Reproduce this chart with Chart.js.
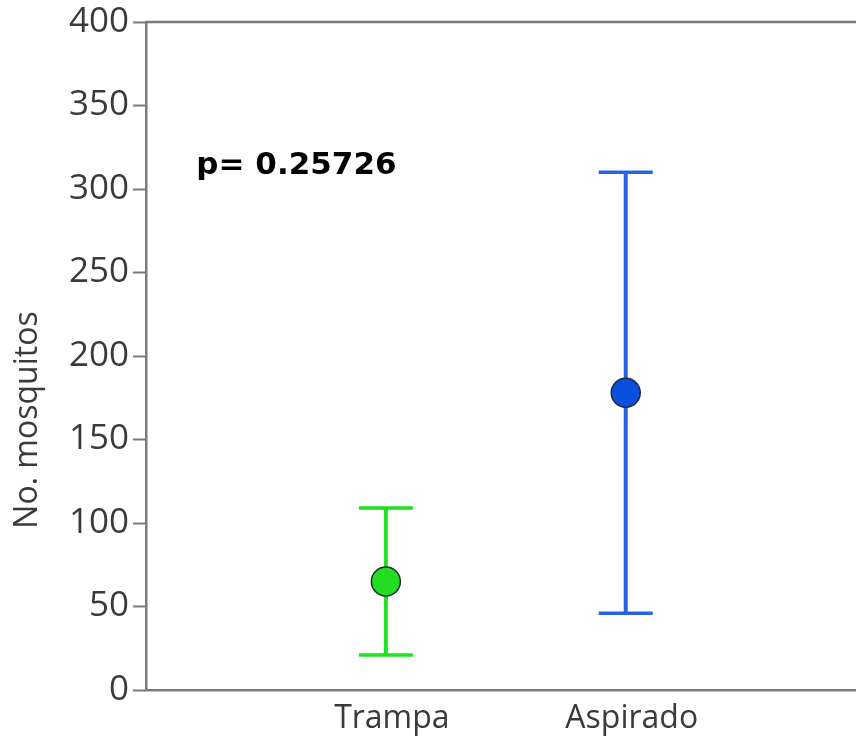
<!DOCTYPE html>
<html>
<head>
<meta charset="utf-8">
<script src="https://cdn.jsdelivr.net/npm/chart.js@4"></script>
<style>
  html, body { margin: 0; padding: 0; background: #fff; overflow: hidden; }
  canvas { display: block; }
</style>
</head>
<body>
<canvas id="chart" width="856" height="740"></canvas>
<script>
const categories = ['Trampa', 'Aspirado'];
const means = [65, 178];
const lower = [21, 46];
const upper = [109, 310];
const colors = ['#22e022', '#2862e4'];
const dotColors = ['#22dd22', '#0b4fdc'];
const yTicks = [0, 50, 100, 150, 200, 250, 300, 350, 400];
const pLabel = 'p= 0.25726';

const axisColor = '#7a7a7a';
const textColor = '#3a3a3a';

// whiskers, caps, top frame, y title and the p value
const errorBars = {
    id: 'errorBars',
    beforeDatasetsDraw(chart) {
        const ctx = chart.ctx;
        const xs = chart.scales.x;
        const ys = chart.scales.y;
        ctx.save();
        categories.forEach((c, i) => {
            const x = xs.getPixelForValue(i + 1);
            const yl = ys.getPixelForValue(lower[i]);
            const yu = ys.getPixelForValue(upper[i]);
            ctx.strokeStyle = colors[i];
            ctx.lineWidth = 4;
            ctx.beginPath();
            ctx.moveTo(x, yl);
            ctx.lineTo(x, yu);
            ctx.stroke();
            ctx.lineWidth = 3.5;
            ctx.beginPath();
            ctx.moveTo(x - 27, yl);
            ctx.lineTo(x + 27, yl);
            ctx.moveTo(x - 27, yu);
            ctx.lineTo(x + 27, yu);
            ctx.stroke();
        });
        ctx.restore();
    },
    afterDraw(chart) {
        const ctx = chart.ctx;
        const area = chart.chartArea;
        const xs = chart.scales.x;
        const ys = chart.scales.y;
        ctx.save();
        ctx.strokeStyle = axisColor;
        ctx.lineWidth = 2.5;
        ctx.beginPath();
        ctx.moveTo(area.left, area.top);
        ctx.lineTo(area.right, area.top);
        ctx.stroke();

        ctx.fillStyle = textColor;
        ctx.font = '32px "Open Sans"';
        ctx.textAlign = 'center';
        ctx.textBaseline = 'middle';
        ctx.translate(28, 420);
        ctx.rotate(-Math.PI / 2);
        ctx.fillText('No. mosquitos', 0, 0);
        ctx.restore();

        ctx.save();
        ctx.fillStyle = '#000';
        ctx.font = 'bold 31px "DejaVu Sans"';
        ctx.textAlign = 'left';
        ctx.textBaseline = 'alphabetic';
        ctx.fillText(pLabel, xs.getPixelForValue(0.21), ys.getPixelForValue(309));
        ctx.restore();
    }
};

new Chart(document.getElementById('chart'), {
    type: 'scatter',
    data: {
        datasets: [{
            data: means.map((m, i) => ({ x: i + 1, y: m })),
            pointRadius: 14.5,
            pointHoverRadius: 14.5,
            pointBackgroundColor: dotColors,
            pointBorderColor: '#1f2a3a',
            pointBorderWidth: 1.5
        }]
    },
    options: {
        responsive: false,
        animation: false,
        layout: { autoPadding: false, padding: { top: 22, right: 0, left: 0, bottom: 0 } },
        plugins: { legend: { display: false }, tooltip: { enabled: false } },
        scales: {
            x: {
                type: 'linear',
                min: 0,
                max: 2.96,
                afterBuildTicks(scale) {
                    scale.ticks = categories.map((c, i) => ({ value: i + 1 }));
                },
                afterFit(scale) {
                    scale.height = 50;
                    scale.paddingLeft = 0;
                    scale.paddingRight = 0;
                },
                ticks: {
                    callback: (v) => categories[v - 1],
                    color: textColor,
                    font: { family: 'Open Sans', size: 32 },
                    padding: 10,
                    labelOffset: 6,
                    maxRotation: 0
                },
                grid: { drawOnChartArea: false, drawTicks: false },
                border: { display: true, color: axisColor, width: 2.5 }
            },
            y: {
                min: 0,
                max: 400,
                afterBuildTicks(scale) {
                    scale.ticks = yTicks.map(v => ({ value: v }));
                },
                afterFit(scale) {
                    scale.width = 146;
                    scale.paddingTop = 0;
                    scale.paddingBottom = 0;
                },
                ticks: {
                    color: textColor,
                    font: { family: 'Open Sans', size: 35 },
                    padding: 4
                },
                grid: { drawOnChartArea: false, tickLength: 13, tickColor: axisColor, tickWidth: 2 },
                border: { display: true, color: axisColor, width: 2.5 }
            }
        }
    },
    plugins: [errorBars]
});
</script>
</body>
</html>
